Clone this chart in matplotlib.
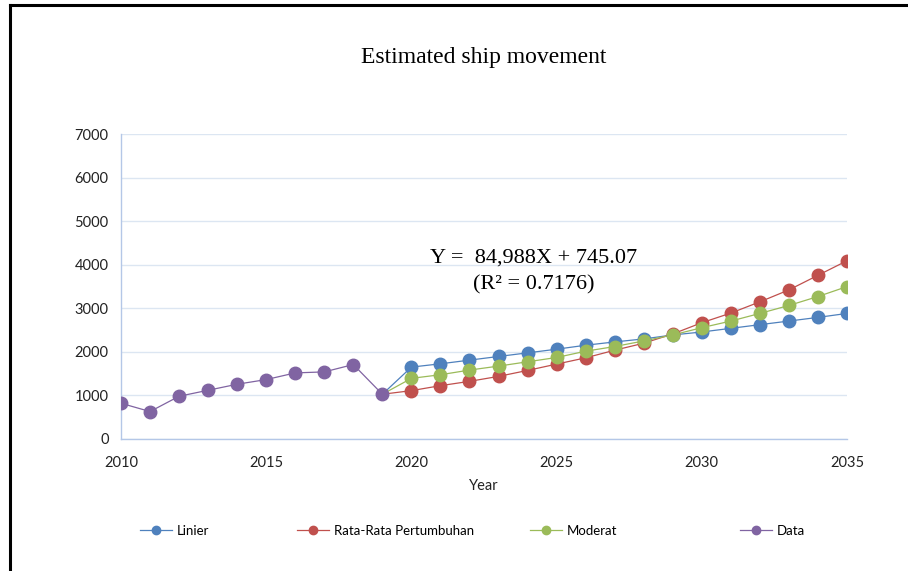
import numpy as np
import matplotlib.pyplot as plt
from matplotlib.lines import Line2D

# observed data
years_data = [2010, 2011, 2012, 2013, 2014, 2015, 2016, 2017, 2018, 2019]
ships_data = [820, 630, 981, 1119, 1257, 1364, 1517, 1540, 1709, 1027]

# projections (start from the last observed point)
years_proj = list(range(2019, 2036))
linier = [1027, 1650, 1726, 1810, 1894, 1977, 2061, 2152, 2228, 2297,
          2388, 2456, 2540, 2624, 2707, 2791, 2882]
rata_rata = [1027, 1110, 1224, 1323, 1437, 1574, 1719, 1863, 2038, 2198,
             2411, 2669, 2890, 3148, 3422, 3757, 4091]
moderat = [1027, 1392, 1475, 1582, 1673, 1772, 1871, 2015, 2122, 2251,
           2388, 2555, 2707, 2882, 3065, 3270, 3498]

x_ticks = [2010, 2015, 2020, 2025, 2030, 2035]
y_ticks = [0, 1000, 2000, 3000, 4000, 5000, 6000, 7000]

BLUE = "#4f81bd"
RED = "#c0504d"
GREEN = "#9bbb59"
PURPLE = "#8064a2"
GRID = "#dce6f2"
AXIS = "#b4c7e7"

W, H = 908, 571
fig = plt.figure(figsize=(W/100, H/100), dpi=100)
ax = fig.add_axes([121/W, 1-439/H, (847-121)/W, (439-134)/H])

series = [("Linier", years_proj, linier, BLUE),
          ("Rata-Rata Pertumbuhan", years_proj, rata_rata, RED),
          ("Moderat", years_proj, moderat, GREEN),
          ("Data", years_data, ships_data, PURPLE)]

for name, xs, ys, col in series:
    # the first projection point sits under the last data marker
    k = 0 if name == "Data" else 1
    ax.plot(xs[k:], ys[k:], ls="none", marker="o", ms=9, color=col, zorder=3)
    ax.plot(xs, ys, "-", lw=0.9, color=col, zorder=2)

ax.set_xlim(2010, 2035)
ax.set_ylim(0, 7000)
ax.set_xticks(x_ticks)
ax.set_yticks(y_ticks)
ax.tick_params(axis="y", length=0, labelsize=10.5, colors="#222222", pad=9)
ax.tick_params(axis="x", length=0, labelsize=10.5, colors="#222222", pad=12)
for lab in ax.get_xticklabels() + ax.get_yticklabels():
    lab.set_family("Lato")
ax.yaxis.grid(True, color=GRID, lw=1)
ax.set_axisbelow(True)
for s in ["top", "right"]:
    ax.spines[s].set_visible(False)
for s in ["left", "bottom"]:
    ax.spines[s].set_color(AXIS)
    ax.spines[s].set_linewidth(1)
ax.set_xlabel("Year", family="Lato", fontsize=10.5, color="#222222", labelpad=7)

fig.text(484/W, 1-57/H, "Estimated ship movement", family="Liberation Serif",
         fontsize=17, ha="center", va="center")
ax.text(2024.2, 4154, "Y =  84,988X + 745.07", family="Liberation Serif",
        fontsize=16, ha="center", va="center")
ax.text(2024.2, 3534, "(R\u00b2 = 0.7176)", family="Liberation Serif",
        fontsize=16, ha="center", va="center")

# legend entries placed one by one
leg_x = [140, 297, 530, 740]
for (name, _, _, col), lx in zip(series, leg_x):
    h = Line2D([], [], color=col, lw=0.9, marker="o", ms=6)
    fig.legend([h], [name], loc="center left", bbox_to_anchor=(lx/W, 1-531/H),
               frameon=False, handlelength=2.4, borderpad=0, borderaxespad=0,
               handletextpad=0.4, prop={"family": "Lato", "size": 9.5})

# frame lines of the chart box
fig.add_artist(Line2D([10/W, 10/W], [0, 1-5/H], color="black", lw=2.2))
fig.add_artist(Line2D([10/W, 1], [1-5/H, 1-5/H], color="black", lw=2.2))

fig.savefig("out.png", dpi=100)
